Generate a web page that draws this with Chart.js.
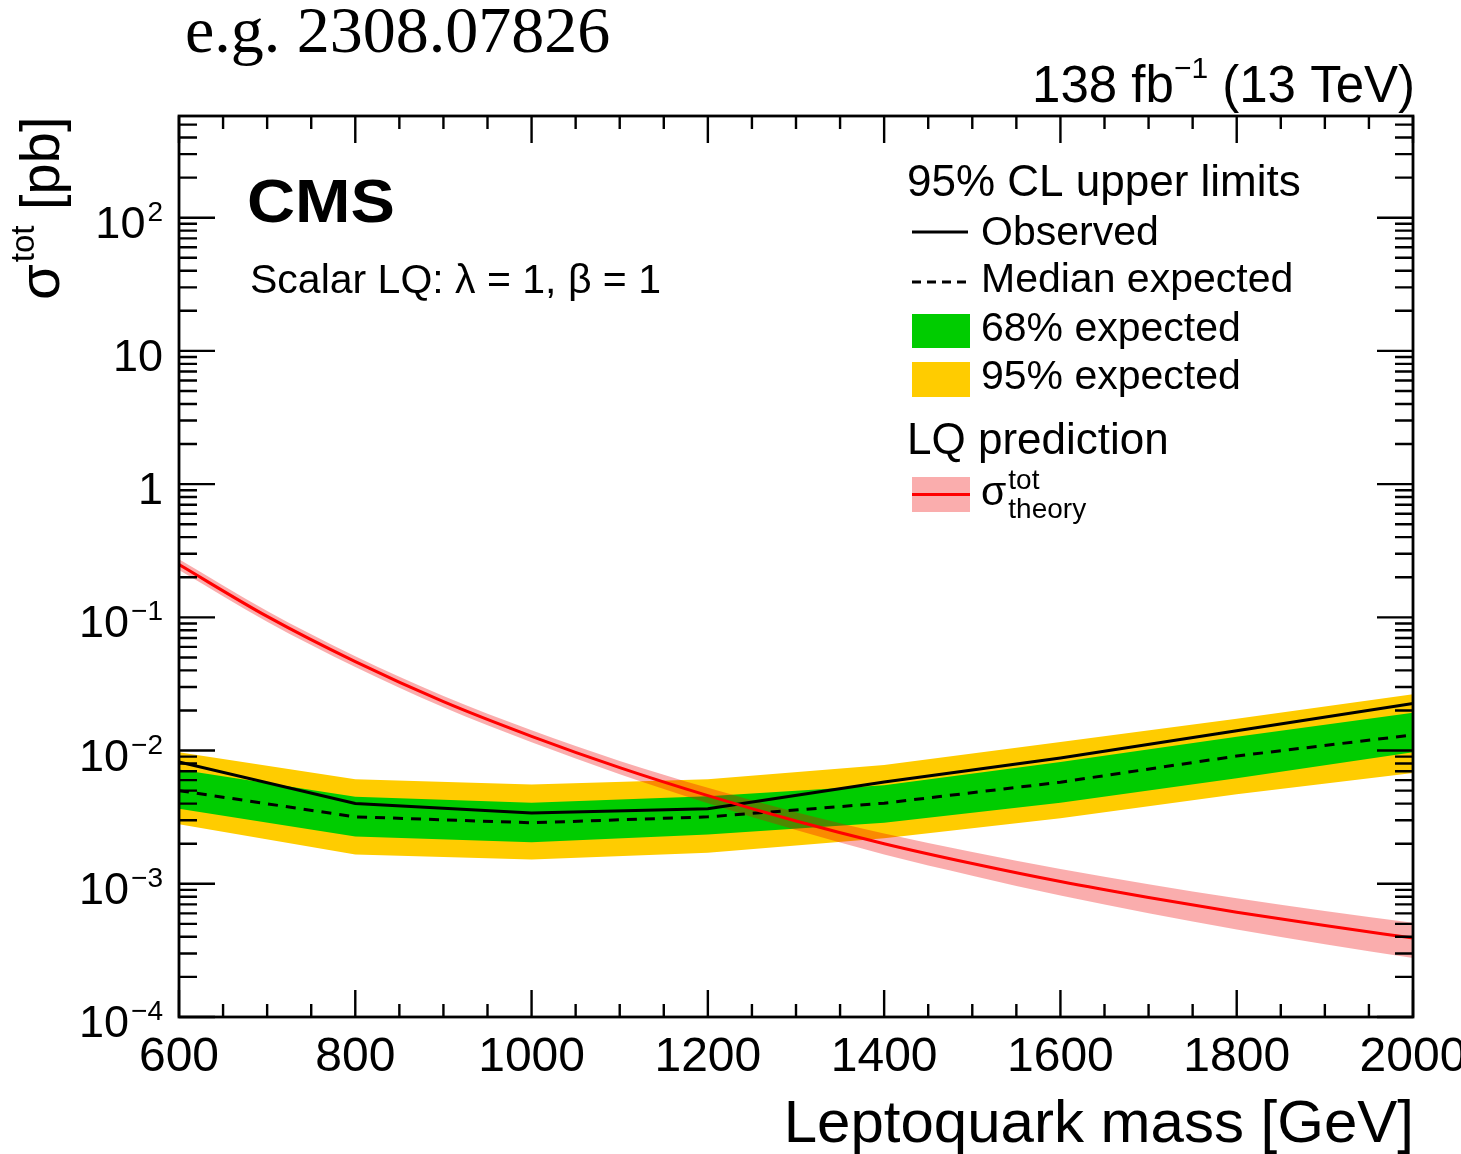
<!DOCTYPE html>
<html>
<head>
<meta charset="utf-8">
<script src="https://cdn.jsdelivr.net/npm/chart.js@4.4.1/dist/chart.umd.min.js"></script>
<style>
  html, body { margin: 0; padding: 0; background: #fff; }
  canvas { display: block; }
</style>
</head>
<body>
<canvas id="limitChart" width="1461" height="1154"></canvas>
<script>
// limits (every 200 GeV)
const massLimits = [600, 800, 1000, 1200, 1400, 1600, 1800, 2000];
const observed   = [0.0082, 0.0040, 0.0034, 0.00366, 0.0058, 0.0088, 0.0141, 0.0226];
const expected   = [0.0050, 0.00318, 0.00287, 0.00318, 0.00403, 0.00579, 0.0091, 0.0131];
const exp68Up    = [0.0072, 0.0045, 0.00406, 0.00454, 0.0055, 0.0082, 0.0127, 0.0192];
const exp68Down  = [0.00366, 0.00226, 0.00205, 0.00234, 0.00287, 0.00405, 0.0062, 0.0097];
const exp95Up    = [0.0097, 0.0061, 0.00556, 0.0061, 0.0078, 0.0116, 0.0173, 0.0265];
const exp95Down  = [0.0028, 0.00166, 0.00152, 0.00171, 0.0022, 0.0031, 0.0047, 0.0068];

// theory cross section (every 100 GeV)
const massTheory = [600, 700, 800, 900, 1000, 1100, 1200, 1300, 1400, 1500, 1600, 1700, 1800, 1900, 2000];
const theory     = [0.249, 0.1016, 0.0465, 0.0233, 0.0128, 0.00745, 0.00459, 0.00296, 0.00200, 0.00142, 0.00104, 0.000789, 0.000612, 0.000486, 0.000391];
const theoryUp   = [0.273, 0.1114, 0.0510, 0.0257, 0.0142, 0.00836, 0.00525, 0.00344, 0.00238, 0.00173, 0.00129, 0.000993, 0.000780, 0.000626, 0.000510];
const theoryDown = [0.227, 0.0927, 0.0424, 0.0211, 0.01154, 0.00664, 0.00402, 0.00253, 0.00166, 0.00115, 0.000816, 0.000601, 0.000454, 0.000352, 0.000277];

// axis ticks
const xTicks = [600, 800, 1000, 1200, 1400, 1600, 1800, 2000];
const xTickLabels = ['600', '800', '1000', '1200', '1400', '1600', '1800', '2000'];
const yDecades = [1e-4, 1e-3, 1e-2, 1e-1, 1, 10, 100];
const yTickLabels = [['10', '−4'], ['10', '−3'], ['10', '−2'], ['10', '−1'], ['1', ''], ['10', ''], ['10', '2']];

const FONT = '"Liberation Sans", Arial, Helvetica, sans-serif';

function pts(xs, ys) {
    return xs.map((x, i) => ({ x: x, y: ys[i] }));
}

function font(size, weight) {
    return (weight || '') + ' ' + size + 'px ' + FONT;
}

const decorations = {
    id: 'decorations',
    afterDraw(chart) {
        const ctx = chart.ctx;
        const a = chart.chartArea;
        const xs = chart.scales.x;
        const ys = chart.scales.y;

        ctx.save();
        ctx.strokeStyle = '#000';
        ctx.fillStyle = '#000';

        // frame
        ctx.lineWidth = 2.8;
        ctx.strokeRect(a.left, a.top, a.right - a.left, a.bottom - a.top);

        // x ticks, bottom and top, pointing inward
        ctx.lineWidth = 2.4;
        ctx.beginPath();
        for (let m = 600; m <= 2000; m += 50) {
            const px = xs.getPixelForValue(m);
            const len = (m % 200 === 0) ? 27 : 13;
            ctx.moveTo(px, a.bottom); ctx.lineTo(px, a.bottom - len);
            ctx.moveTo(px, a.top); ctx.lineTo(px, a.top + len);
        }
        // y ticks, left and right
        yDecades.forEach(d => {
            for (let k = 1; k <= 9; k++) {
                const v = d * k;
                if (v > ys.max) break;
                const py = ys.getPixelForValue(v);
                const len = k === 1 ? 36 : 18;
                ctx.moveTo(a.left, py); ctx.lineTo(a.left + len, py);
                ctx.moveTo(a.right, py); ctx.lineTo(a.right - len, py);
            }
        });
        ctx.stroke();

        // x tick labels
        ctx.font = font(48);
        ctx.textAlign = 'center';
        ctx.textBaseline = 'alphabetic';
        xTicks.forEach((t, i) => {
            ctx.fillText(xTickLabels[i], xs.getPixelForValue(t), 1071);
        });

        // y tick labels
        yDecades.forEach((d, i) => {
            const py = ys.getPixelForValue(d);
            const base = yTickLabels[i][0];
            const sup = yTickLabels[i][1];
            const right = 163;
            ctx.textAlign = 'left';
            ctx.font = font(28);
            const ws = sup ? ctx.measureText(sup).width : 0;
            ctx.font = font(45);
            const wb = ctx.measureText(base).width;
            const x0 = right - ws - wb - (sup ? 2 : 0);
            ctx.fillText(base, x0, py + 20);
            if (sup) {
                ctx.font = font(28);
                ctx.fillText(sup, x0 + wb + 2, py + 3);
            }
        });

        // x axis title
        ctx.font = font(60);
        ctx.textAlign = 'right';
        ctx.fillText('Leptoquark mass [GeV]', 1414, 1142);

        // y axis title, rotated
        ctx.save();
        ctx.translate(59, 300);
        ctx.rotate(-Math.PI / 2);
        ctx.textAlign = 'left';
        ctx.font = font(58);
        ctx.fillText('σ', 0, 0);
        let wy = ctx.measureText('σ').width + 2;
        ctx.font = font(33);
        ctx.fillText('tot', wy, -25);
        wy += ctx.measureText('tot').width;
        ctx.font = font(56);
        ctx.fillText(' [pb]', wy, 0);
        ctx.restore();

        // lumi label
        ctx.textAlign = 'left';
        ctx.font = font(51);
        const w1 = ctx.measureText('138 fb').width;
        const w3 = ctx.measureText(' (13 TeV)').width;
        ctx.font = font(30);
        const w2 = ctx.measureText('−1').width;
        let lx = 1415 - w1 - w2 - w3;
        ctx.font = font(51);
        ctx.fillText('138 fb', lx, 102);
        ctx.font = font(30);
        ctx.fillText('−1', lx + w1, 78);
        ctx.font = font(51);
        ctx.fillText(' (13 TeV)', lx + w1 + w2, 102);

        // reference label on top
        ctx.font = '66px "Liberation Serif", "Times New Roman", serif';
        ctx.fillText('e.g. 2308.07826', 185, 52);

        // CMS logo
        ctx.save();
        ctx.font = font(62, 'bold');
        const wc = ctx.measureText('CMS').width;
        ctx.translate(247, 222);
        ctx.scale(148 / wc, 1);
        ctx.fillText('CMS', 0, 0);
        ctx.restore();

        ctx.font = font(41);
        ctx.fillText('Scalar LQ: λ = 1, β = 1', 250, 293);

        // legend
        ctx.font = font(44);
        ctx.fillText('95% CL upper limits', 907, 196);
        ctx.fillText('LQ prediction', 907, 454);

        ctx.lineWidth = 3;
        ctx.beginPath();
        ctx.moveTo(912, 232); ctx.lineTo(968, 232);
        ctx.stroke();
        ctx.setLineDash([9, 6]);
        ctx.beginPath();
        ctx.moveTo(912, 282); ctx.lineTo(968, 282);
        ctx.stroke();
        ctx.setLineDash([]);

        ctx.fillStyle = '#00cc00';
        ctx.fillRect(912, 314, 58, 34);
        ctx.fillStyle = '#ffcc00';
        ctx.fillRect(912, 362, 58, 35);
        ctx.fillStyle = 'rgba(240, 0, 0, 0.32)';
        ctx.fillRect(912, 477, 58, 35);
        ctx.strokeStyle = '#ff0000';
        ctx.beginPath();
        ctx.moveTo(912, 494.5); ctx.lineTo(970, 494.5);
        ctx.stroke();

        ctx.fillStyle = '#000';
        ctx.font = font(41);
        ctx.fillText('Observed', 981, 245);
        ctx.fillText('Median expected', 981, 292);
        ctx.fillText('68% expected', 981, 341);
        ctx.fillText('95% expected', 981, 389);
        ctx.fillText('σ', 981, 505);
        const wsig = ctx.measureText('σ').width;
        ctx.font = font(28);
        ctx.fillText('tot', 983 + wsig, 489);
        ctx.fillText('theory', 983 + wsig, 518);

        ctx.restore();
    }
};

new Chart(document.getElementById('limitChart'), {
    type: 'line',
    data: {
        datasets: [
            { data: pts(massLimits, exp95Up), borderWidth: 0, backgroundColor: '#ffcc00', fill: '+1', order: 8 },
            { data: pts(massLimits, exp95Down), borderWidth: 0, fill: false, order: 8 },
            { data: pts(massLimits, exp68Up), borderWidth: 0, backgroundColor: '#00cc00', fill: '+1', order: 6 },
            { data: pts(massLimits, exp68Down), borderWidth: 0, fill: false, order: 6 },
            { data: pts(massTheory, theoryUp), borderWidth: 0, backgroundColor: 'rgba(240, 0, 0, 0.32)', fill: '+1', cubicInterpolationMode: 'monotone', order: 4 },
            { data: pts(massTheory, theoryDown), borderWidth: 0, fill: false, cubicInterpolationMode: 'monotone', order: 4 },
            { data: pts(massLimits, observed), borderColor: '#000', borderWidth: 3, fill: false, order: 2 },
            { data: pts(massLimits, expected), borderColor: '#000', borderWidth: 3, borderDash: [10, 8], fill: false, order: 2 },
            { data: pts(massTheory, theory), borderColor: '#ff0000', borderWidth: 3, fill: false, cubicInterpolationMode: 'monotone', order: 0 }
        ]
    },
    options: {
        responsive: false,
        animation: false,
        devicePixelRatio: 1,
        layout: { padding: { left: 179, right: 48, top: 116, bottom: 137 } },
        elements: { point: { radius: 0 } },
        scales: {
            x: { type: 'linear', min: 600, max: 2000, display: false },
            y: { type: 'logarithmic', min: 1e-4, max: 580, display: false }
        },
        plugins: {
            legend: { display: false },
            tooltip: { enabled: false }
        }
    },
    plugins: [decorations]
});
</script>
</body>
</html>
